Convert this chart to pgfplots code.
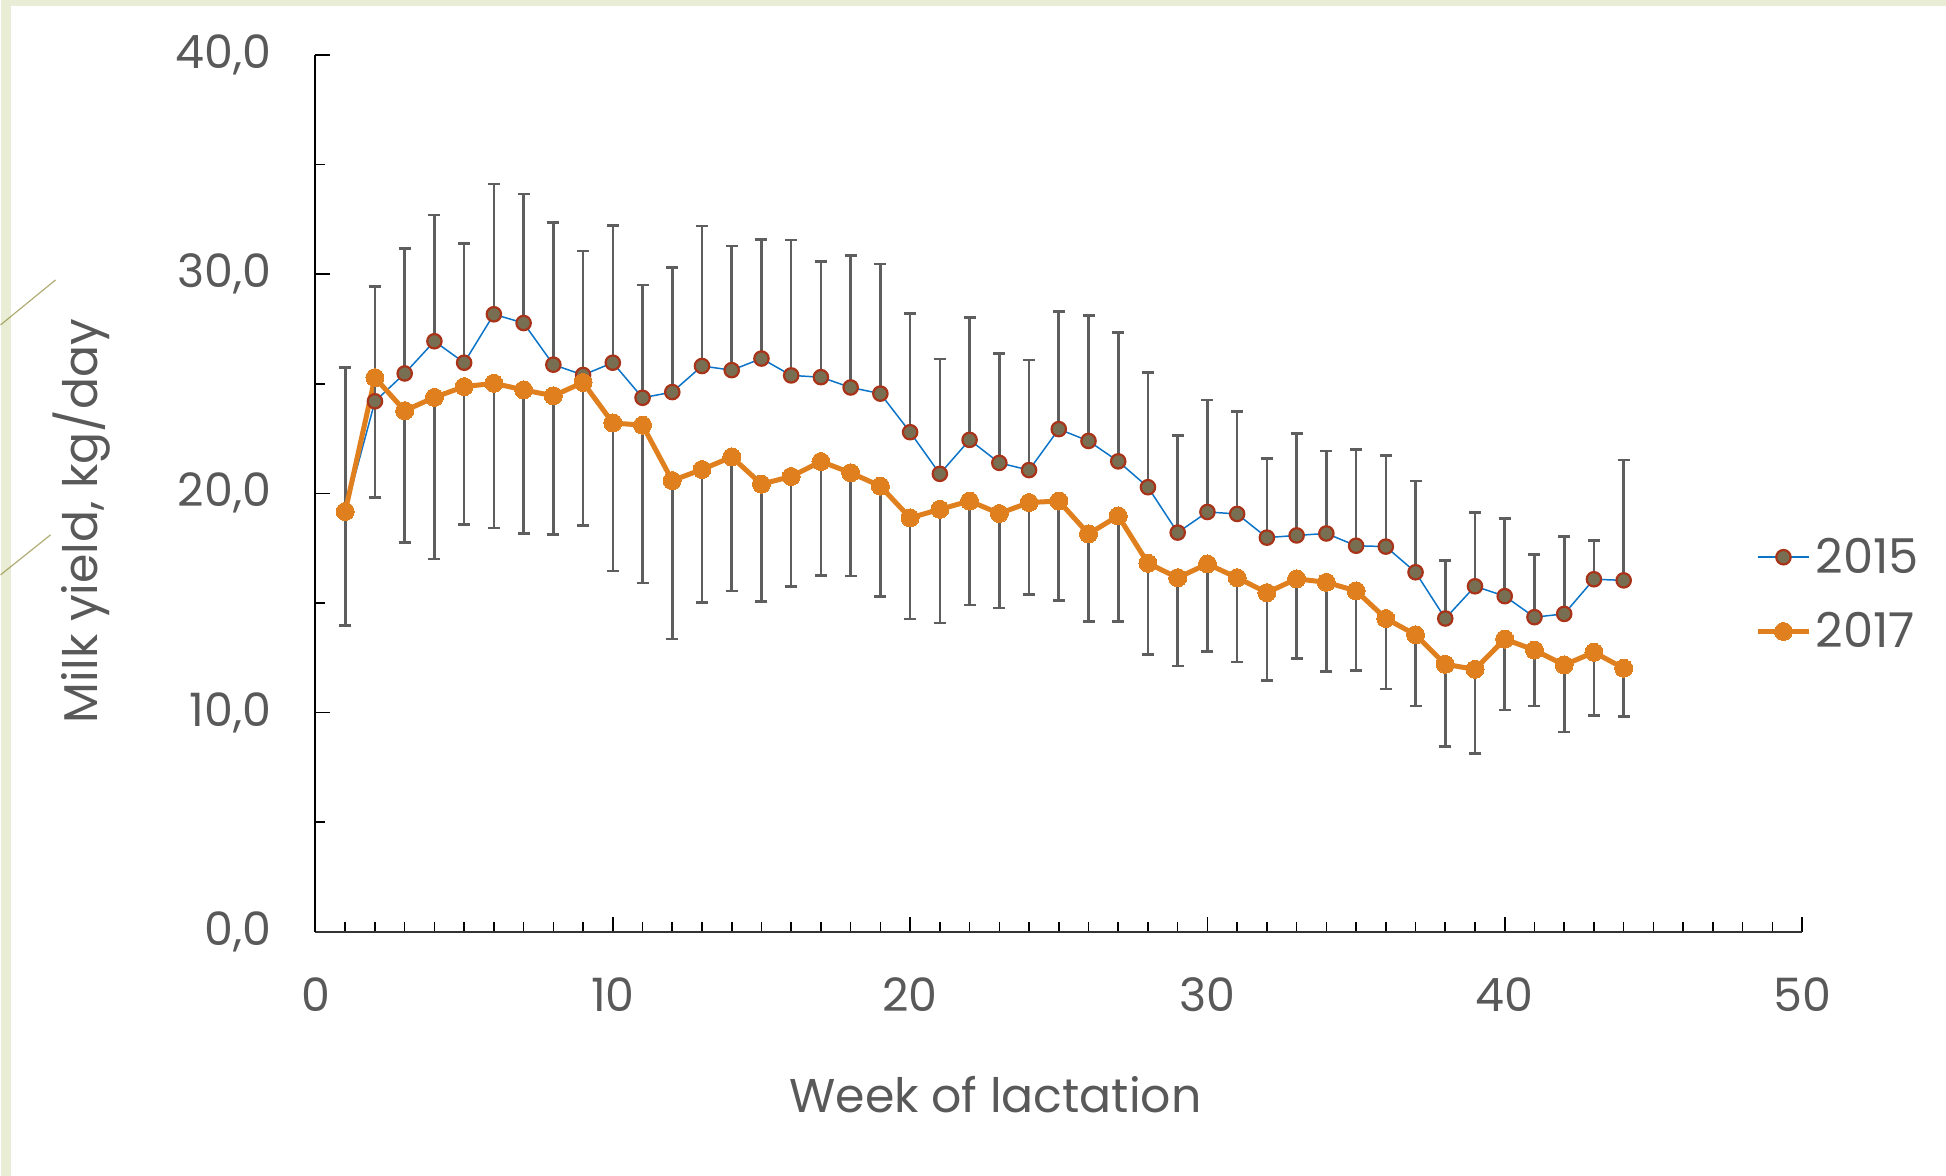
\documentclass[border=0pt]{standalone}
\usepackage{fontspec}
\setmainfont{Poppins}
\usepackage{pgfplots}
\pgfplotsset{compat=1.18}
\usepackage{pgfplotstable}

\definecolor{bggreen}{HTML}{E9EDD5}
\definecolor{txtgray}{HTML}{595959}
\definecolor{blue15}{HTML}{0B74C8}
\definecolor{mfill15}{HTML}{786F52}
\definecolor{medge15}{HTML}{A93318}
\definecolor{orange17}{HTML}{E07F1E}
\definecolor{errgray}{HTML}{5E5E5E}
\newcommand\lblfont{\fontsize{23.7bp}{28bp}\selectfont}
\newcommand\tickfont{\fontsize{23bp}{27bp}\selectfont}
\newcommand\legfont{\fontsize{24bp}{28bp}\selectfont}

\pgfplotstableread{
w a b top bot
1 19.17 19.17 25.74 13.96
2 24.20 25.28 29.43 19.81
3 25.47 23.77 31.17 17.75
4 26.94 24.38 32.70 17.00
5 25.96 24.87 31.40 18.57
6 28.17 25.02 34.11 18.42
7 27.77 24.72 33.66 18.17
8 25.87 24.45 32.36 18.13
9 25.40 25.06 31.06 18.53
10 25.96 23.21 32.21 16.45
11 24.36 23.11 29.51 15.91
12 24.62 20.58 30.30 13.36
13 25.81 21.09 32.19 15.02
14 25.62 21.66 31.28 15.55
15 26.15 20.42 31.58 15.06
16 25.38 20.77 31.55 15.74
17 25.30 21.45 30.59 16.24
18 24.83 20.94 30.84 16.22
19 24.55 20.33 30.47 15.30
20 22.79 18.88 28.20 14.27
21 20.89 19.27 26.13 14.09
22 22.44 19.65 28.01 14.91
23 21.39 19.08 26.39 14.77
24 21.06 19.58 26.08 15.38
25 22.93 19.65 28.31 15.12
26 22.39 18.15 28.12 14.15
27 21.46 18.97 27.33 14.15
28 20.28 16.81 25.52 12.65
29 18.21 16.15 22.65 12.13
30 19.15 16.78 24.25 12.79
31 19.06 16.15 23.73 12.30
32 17.98 15.47 21.58 11.46
33 18.08 16.10 22.72 12.46
34 18.17 15.94 21.94 11.87
35 17.61 15.55 21.99 11.91
36 17.57 14.29 21.72 11.08
37 16.40 13.55 20.56 10.29
38 14.29 12.20 16.94 8.46
39 15.76 11.97 19.13 8.14
40 15.31 13.35 18.85 10.11
41 14.35 12.85 17.22 10.29
42 14.50 12.17 18.02 9.11
43 16.08 12.75 17.84 9.87
44 16.03 12.02 21.52 9.81
}\datatable

\begin{document}
\begin{tikzpicture}
\fill[bggreen] (-157.5bp,-122bp) rectangle (815.5bp,466bp);
\fill[white] (-152.5bp,-122bp) rectangle (815.5bp,463bp);
\draw[color=olive!60!gray, line width=0.6bp, opacity=0.7] (-157.5bp,303.5bp) -- (-130bp,326bp);
\draw[color=olive!60!gray, line width=0.6bp, opacity=0.7] (-157.5bp,178.5bp) -- (-132.5bp,198.5bp);
\begin{axis}[
  at={(0,0)}, anchor=south west,
  scale only axis, width=743.5bp, height=438.5bp,
  xmin=0, xmax=50, ymin=0, ymax=40,
  axis lines=left, axis line style={-, line width=1bp, black},
  x axis line style={draw=black!80},
  xtick={0,10,...,50}, ytick={0,10,...,40},
  minor x tick num=9, minor y tick num=1,
  tick align=inside,
  major tick length=7.5bp, minor tick length=5bp,
  tick style={black, line width=0.8bp},
  /pgf/number format/assume math mode=true,
  yticklabel style={font=\tickfont, text=txtgray, inner sep=0pt, anchor=east, xshift=-22bp,
    /pgf/number format/.cd, fixed, fixed zerofill, precision=1, use comma},
  xticklabel style={font=\tickfont, text=txtgray, inner sep=0pt, anchor=north, yshift=-23bp},
  xlabel={Week of lactation},
  xlabel style={at={(axis description cs:0.4574,-0.1854)}, anchor=center, font=\lblfont, text=txtgray},
  ylabel={Milk yield, kg/day},
  ylabel style={at={(axis description cs:-0.1574,0.4686)}, anchor=center, font=\lblfont, text=txtgray},
  legend style={at={(axis description cs:0.9684,0.3848)}, anchor=west, draw=none, fill=none,
    font=\legfont, text=txtgray, row sep=14bp, inner sep=0pt, nodes={inner sep=2bp}},
  legend cell align=left,
  legend image code/.code={\draw[#1, mark repeat=2, mark phase=2] plot coordinates {(0bp,0bp) (12.75bp,0bp) (25.5bp,0bp)};},
]
\addplot[blue15, line width=0.75bp, mark=*, mark size=3.6bp,
  mark options={fill=mfill15, draw=medge15, line width=1.1bp},
  error bars/.cd, y dir=plus, y explicit,
  error bar style={errgray, line width=1.3bp},
  error mark=-,
  error mark options={errgray, line width=1.3bp, mark size=3bp, rotate=90}]
  table[x=w, y=a, y error plus expr=\thisrow{top}-\thisrow{a}] {\datatable};
\addlegendentry{2015}
\addplot[orange17, line width=2.5bp, mark=*, mark size=4.5bp,
  mark options={fill=orange17, draw=orange17, line width=0bp},
  error bars/.cd, y dir=minus, y explicit,
  error bar style={errgray, line width=1.3bp},
  error mark=-,
  error mark options={errgray, line width=1.3bp, mark size=3bp, rotate=90}]
  table[x=w, y=b, y error minus expr=\thisrow{b}-\thisrow{bot}] {\datatable};
\addlegendentry{2017}
\end{axis}
\end{tikzpicture}
\end{document}
